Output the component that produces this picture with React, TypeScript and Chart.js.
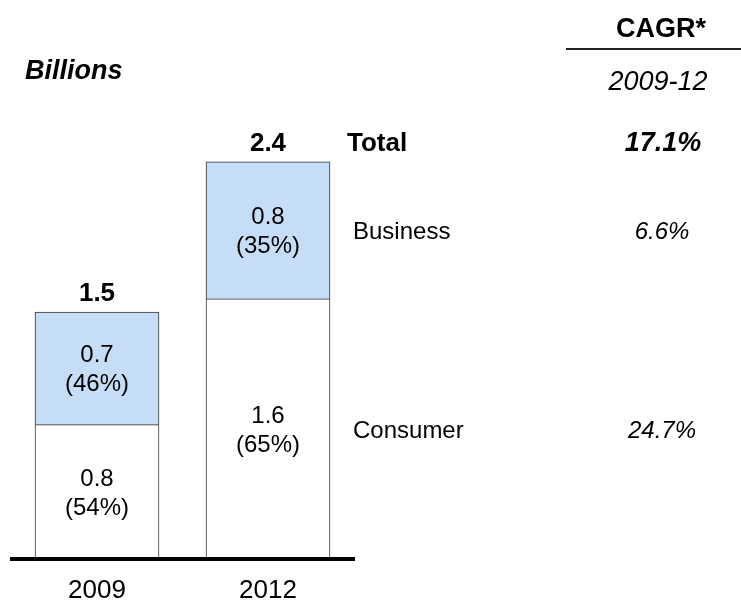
import { useEffect, useRef } from "react";
import { Chart, registerables } from "chart.js";

Chart.register(...registerables);

const years = ["2009", "2012"];
const consumer = [0.81, 1.58];
const business = [0.69, 0.84];
const consumerLabels = ["0.8", "1.6"];
const consumerShares = ["(54%)", "(65%)"];
const businessLabels = ["0.7", "0.8"];
const businessShares = ["(46%)", "(35%)"];
const totalLabels = ["1.5", "2.4"];
const seriesNames = ["Total", "Business", "Consumer"];
const cagrValues = ["17.1%", "6.6%", "24.7%"];
const cagrHeader = "CAGR*";
const cagrPeriod = "2009-12";
const unitLabel = "Billions";

const FONT = "'Liberation Sans', Arial, sans-serif";

const textPlugin = {
  id: "textPlugin",
  afterDraw(chart: any) {
    const ctx = chart.ctx as CanvasRenderingContext2D;
    const area = chart.chartArea;
    const metaC = chart.getDatasetMeta(0);
    const metaB = chart.getDatasetMeta(1);
    ctx.save();
    ctx.fillStyle = "#000";
    ctx.textBaseline = "middle";

    // baseline
    ctx.strokeStyle = "#000";
    ctx.lineWidth = 4;
    ctx.beginPath();
    ctx.moveTo(area.left - 1.5, area.bottom + 2);
    ctx.lineTo(area.right + 1.5, area.bottom + 2);
    ctx.stroke();

    ctx.textAlign = "center";
    years.forEach((yr, i) => {
      const c = metaC.data[i];
      const b = metaB.data[i];
      // segment labels
      ctx.font = `24px ${FONT}`;
      const cm = (c.y + c.base) / 2 + 3;
      ctx.fillText(consumerLabels[i], c.x, cm - 14.5);
      ctx.fillText(consumerShares[i], c.x, cm + 14.5);
      const bm = (b.y + b.base) / 2 + 2;
      ctx.fillText(businessLabels[i], b.x, bm - 14.5);
      ctx.fillText(businessShares[i], b.x, bm + 14.5);
      // category label
      ctx.font = `26px ${FONT}`;
      ctx.fillText(yr, c.x, area.bottom + 34);
      // totals
      ctx.font = `bold 26px ${FONT}`;
      ctx.fillText(totalLabels[i], b.x, b.y - 18);
    });

    // right side labels
    const last = years.length - 1;
    const bLast = metaB.data[last];
    const cLast = metaC.data[last];
    const rowY = [
      bLast.y - 18,
      (bLast.y + bLast.base) / 2 + 2,
      (cLast.y + cLast.base) / 2 + 3,
    ];
    const nameX = 347;
    const valX = 662;
    ctx.textAlign = "left";
    seriesNames.forEach((n, k) => {
      ctx.font = k === 0 ? `bold 26px ${FONT}` : `24px ${FONT}`;
      ctx.fillText(n, k === 0 ? nameX : nameX + 6, rowY[k]);
    });
    ctx.textAlign = "center";
    cagrValues.forEach((v, k) => {
      ctx.font = k === 0 ? `italic bold 27px ${FONT}` : `italic 24px ${FONT}`;
      ctx.fillText(v, k === 0 ? valX + 1 : valX, rowY[k]);
    });

    // header
    ctx.font = `bold 27px ${FONT}`;
    ctx.fillText(cagrHeader, 661, 30);
    ctx.strokeStyle = "#222";
    ctx.lineWidth = 2;
    ctx.beginPath();
    ctx.moveTo(566, 49);
    ctx.lineTo(741, 49);
    ctx.stroke();
    ctx.font = `italic 27px ${FONT}`;
    ctx.fillText(cagrPeriod, 658, 82);
    ctx.textAlign = "left";
    ctx.font = `italic bold 27px ${FONT}`;
    ctx.fillText(unitLabel, 25, 72);
    ctx.restore();
  },
};

export default function App() {
  const ref = useRef<HTMLCanvasElement | null>(null);
  useEffect(() => {
    if (!ref.current) return;
    const chart = new Chart(ref.current, {
      type: "bar",
      data: {
        labels: years,
        datasets: [
          {
            label: "Consumer",
            data: consumer,
            backgroundColor: "#ffffff",
            borderColor: "#333333",
            borderWidth: 1,
          },
          {
            label: "Business",
            data: business,
            backgroundColor: "#C6DDF7",
            borderColor: "#333333",
            borderWidth: 1,
          },
        ],
      },
      options: {
        responsive: false,
        animation: false,
        events: [],
        layout: { padding: { left: 11.5, right: 387.5, top: 67, bottom: 45 } },
        datasets: { bar: { barThickness: 124 } },
        scales: {
          x: { stacked: true, display: false },
          y: { stacked: true, display: false, min: 0, max: 3 },
        },
        plugins: { legend: { display: false }, tooltip: { enabled: false } },
      },
      plugins: [textPlugin],
    });
    return () => chart.destroy();
  }, []);
  return (
    <div style={{ position: "absolute", left: 0, top: 0, width: 741, height: 602, background: "#fff" }}>
      <canvas ref={ref} width={741} height={602} style={{ display: "block" }} />
    </div>
  );
}
